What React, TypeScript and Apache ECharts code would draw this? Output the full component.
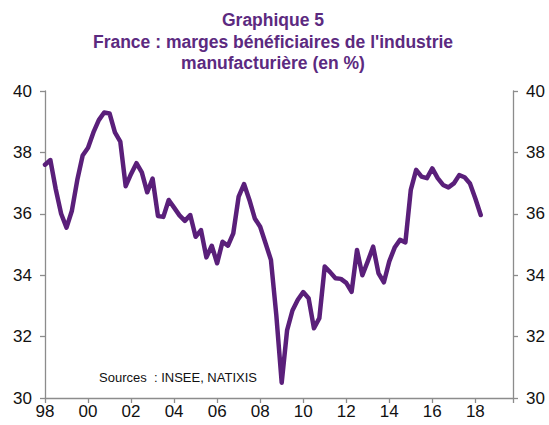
import React, { useEffect, useRef } from "react";
import * as echarts from "echarts";

const titleLines = [
  "Graphique 5",
  "France : marges bénéficiaires de l'industrie",
  "manufacturière (en %)",
];
const sourceText = "Sources  : INSEE, NATIXIS";

// Quarterly data, first quarter = 1998 Q1, last = 2018 Q2
const firstYear = 1998;
const margins = [
  37.6, 37.75, 36.8, 36.0, 35.55, 36.1, 37.1, 37.9,
  38.15, 38.65, 39.05, 39.3, 39.27, 38.65, 38.35, 36.9,
  37.3, 37.65, 37.35, 36.7, 37.15, 35.93, 35.9, 36.45,
  36.2, 35.95, 35.77, 35.96, 35.25, 35.47, 34.58, 34.96,
  34.39, 35.09, 34.96, 35.36, 36.56, 36.97, 36.45, 35.85,
  35.58, 35.04, 34.5, 32.7, 30.5, 32.2, 32.85, 33.2,
  33.45, 33.25, 32.27, 32.6, 34.28, 34.1, 33.9, 33.88,
  33.75, 33.46, 34.82, 34.0, 34.45, 34.93, 34.06, 33.77,
  34.45, 34.9, 35.15, 35.07, 36.78, 37.43, 37.21, 37.16,
  37.48, 37.16, 36.94, 36.86, 36.99, 37.26, 37.19, 36.99,
  36.5, 35.96,
];

const yearLabels = ["98", "00", "02", "04", "06", "08", "10", "12", "14", "16", "18"];
const yMin = 30;
const yMax = 40;
const yStep = 2;
const xMin = 1998;
const xMax = 2019.75;
const xStep = 2;

const PURPLE = "#5a1f7a";
const AXIS = "#8c8c8c";
const FONT = "'Liberation Sans', Arial, sans-serif";

export default function App() {
  const ref = useRef<HTMLDivElement>(null);

  useEffect(() => {
    if (!ref.current) return;
    const chart = echarts.init(ref.current, undefined, { renderer: "svg" });
    const seriesData = margins.map((v, i) => [firstYear + i / 4, v]);

    const yAxisCommon = {
      type: "value" as const,
      min: yMin,
      max: yMax,
      interval: yStep,
      splitLine: { show: false },
      axisLine: { show: true, lineStyle: { color: AXIS, width: 1.3 } },
      axisTick: { show: true, length: 5, lineStyle: { color: AXIS, width: 1.3 } },
      axisLabel: { color: "#111", fontSize: 17, fontFamily: FONT, margin: 13 },
    };

    const titleGraphics = titleLines.map((t, i) => ({
      type: "text",
      x: 273,
      y: 20 + i * 21.5,
      style: {
        text: t,
        fill: "#5c2a80",
        fontSize: 17.5,
        fontWeight: "bold",
        fontFamily: FONT,
        align: "center",
        verticalAlign: "middle",
      },
    }));

    chart.setOption({
      animation: false,
      grid: { left: 45, right: 36, top: 91, bottom: 27 },
      xAxis: {
        type: "value",
        min: xMin,
        max: xMax,
        interval: xStep,
        splitLine: { show: false },
        axisLine: { show: true, lineStyle: { color: AXIS, width: 1.3 } },
        axisTick: { show: true, length: 5, lineStyle: { color: AXIS, width: 1.3 } },
        axisLabel: {
          color: "#111",
          fontSize: 17,
          fontFamily: FONT,
          margin: 5,
          formatter: (v: number) => {
            const k = Math.round((v - xMin) / xStep);
            if (Math.abs(v - (xMin + k * xStep)) > 1e-6) return "";
            return yearLabels[k] ?? "";
          },
        },
      },
      yAxis: [
        { ...yAxisCommon, position: "left" },
        { ...yAxisCommon, position: "right" },
      ],
      graphic: [
        ...titleGraphics,
        {
          type: "text",
          left: 99,
          top: 371,
          style: {
            text: sourceText,
            fill: "#111",
            fontSize: 13,
            fontFamily: FONT,
          },
        },
      ],
      series: [
        {
          type: "line",
          data: seriesData,
          yAxisIndex: 0,
          showSymbol: false,
          symbol: "none",
          lineStyle: { color: PURPLE, width: 4.5, join: "round", cap: "round" },
        },
      ],
    });

    return () => chart.dispose();
  }, []);

  return (
    <div
      ref={ref}
      style={{ position: "fixed", left: 0, top: 0, width: 549, height: 425, background: "#fff" }}
    />
  );
}
